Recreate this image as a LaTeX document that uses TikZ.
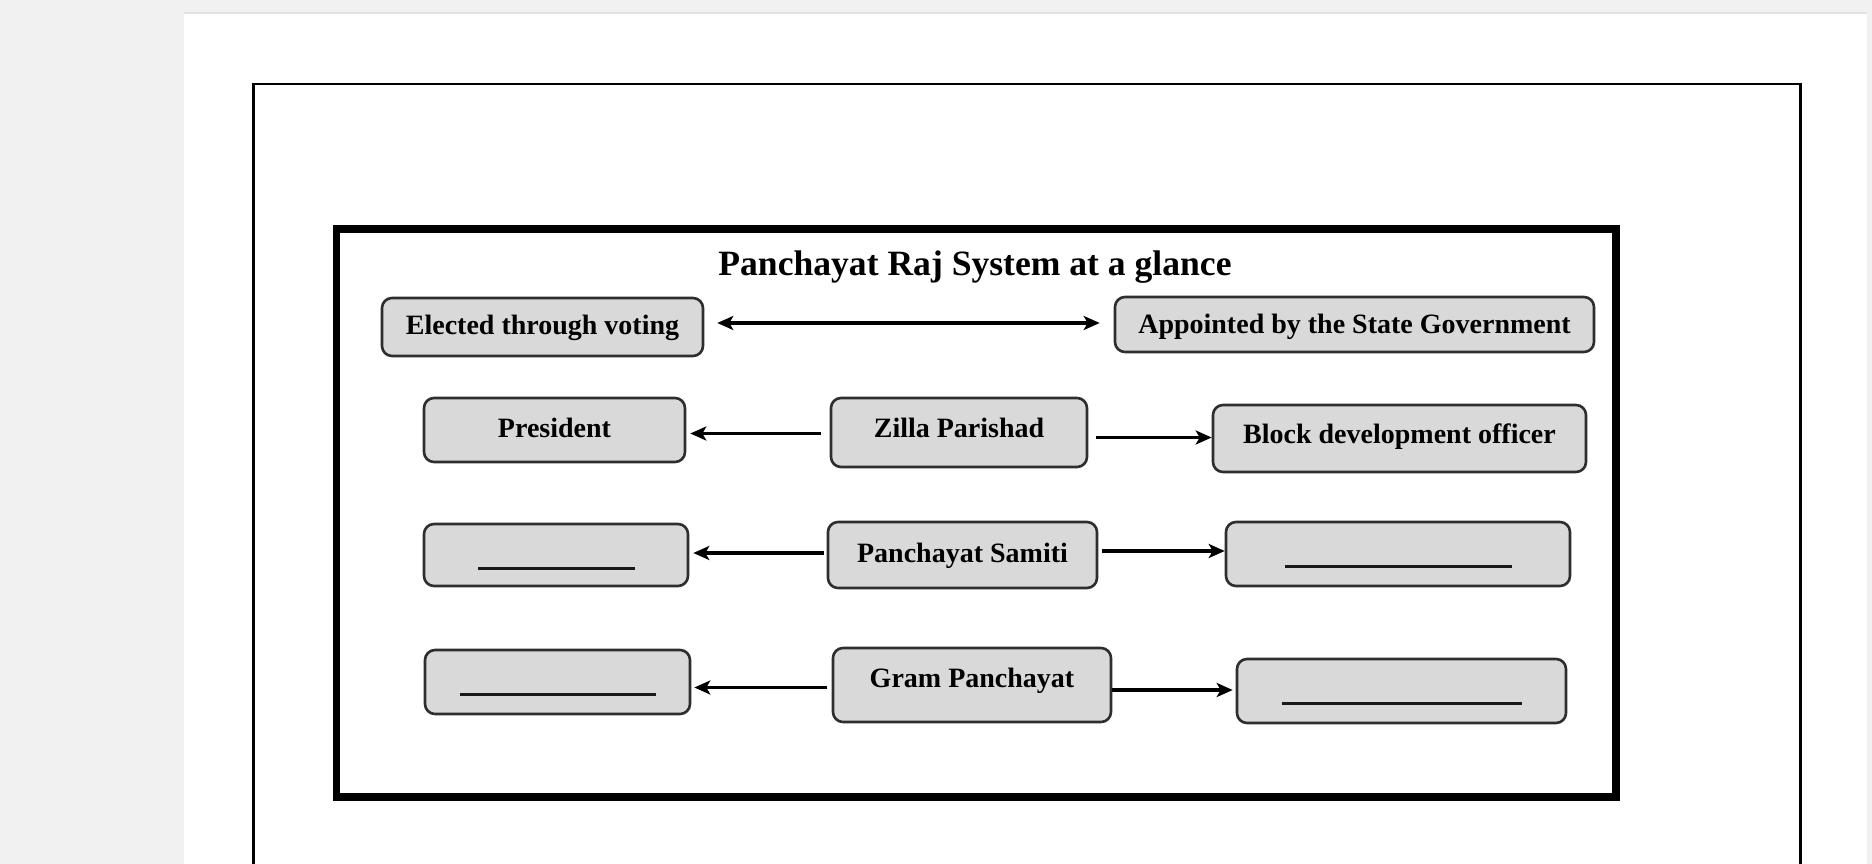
\documentclass[tikz,border=0pt]{standalone}
\usepackage{fontspec}
\setmainfont{Liberation Serif}
\usetikzlibrary{arrows.meta}
\definecolor{pagegray}{HTML}{F1F1F1}
\definecolor{edgegray}{HTML}{E2E2E2}
\definecolor{boxfill}{HTML}{D9D9D9}
\definecolor{boxline}{HTML}{2E2E2E}
\begin{document}
\begin{tikzpicture}[x=1pt,y=-1pt,
  box/.style={draw=boxline, line width=2.6pt, fill=boxfill, rounded corners=10pt,
    inner sep=0pt, font=\fontsize{28}{32}\selectfont\bfseries, text=black},
  bl/.style={text height=#1, text depth=0pt},
  conn/.style={line width=3.8pt, -{Stealth[length=16pt,width=14pt,inset=4pt]}},
  dbl/.style={line width=3.8pt, {Stealth[length=16pt,width=14pt,inset=4pt]}-{Stealth[length=16pt,width=14pt,inset=4pt]}},
  blankline/.style={line width=3pt, draw=black!90},
  titlefont/.style={font=\fontsize{35.6}{40}\selectfont\bfseries}
]
\useasboundingbox (0,0) rectangle (1872,864);
\fill[pagegray] (0,0) rectangle (1872,864);
\fill[white] (184,14) rectangle (1867,864);
\draw[edgegray, line width=2pt] (184,13) -- (1867,13);
\draw[line width=2.5pt] (253.5,864) -- (253.5,84) -- (1800.5,84) -- (1800.5,864);
\draw[line width=7.5pt] (336.5,229) rectangle (1616,797);

\node[titlefont, anchor=base] (title) at (975,275) {Panchayat Raj System at a glance};

\node[box, bl=14pt, minimum width=321pt, minimum height=58pt] (elected) at (542.5,327) {Elected through voting};
\node[box, bl=17.6pt, minimum width=479pt, minimum height=55pt] (appointed) at (1354.5,324.5) {Appointed by the State Government};

\node[box, bl=14.6pt, minimum width=261pt, minimum height=64pt] (pres) at (554.5,430) {President};
\node[box, bl=9.6pt, minimum width=256pt, minimum height=69pt] (zp) at (959,432.5) {Zilla Parishad};
\node[box, bl=9.6pt, minimum width=373pt, minimum height=67pt] (bdo) at (1399.5,438.5) {Block development officer};

\node[box, minimum width=264pt, minimum height=62pt] (b3l) at (556,555) {};
\node[box, bl=15.4pt, minimum width=269pt, minimum height=66pt] (ps) at (962.5,555) {Panchayat Samiti};
\node[box, minimum width=344pt, minimum height=64pt] (b3r) at (1398,554) {};

\node[box, minimum width=265pt, minimum height=64pt] (b4l) at (557.5,682) {};
\node[box, bl=4.6pt, minimum width=278pt, minimum height=74pt] (gp) at (972,685) {Gram Panchayat};
\node[box, minimum width=329pt, minimum height=64pt] (b4r) at (1401.5,691) {};

% blanks
\draw[blankline] ([shift={(-78,13)}]b3l.center) -- ([shift={(79,13)}]b3l.center);
\draw[blankline] ([shift={(-113,12)}]b3r.center) -- ([shift={(114,12)}]b3r.center);
\draw[blankline] ([shift={(-98,12)}]b4l.center) -- ([shift={(98,12)}]b4l.center);
\draw[blankline] ([shift={(-120,12)}]b4r.center) -- ([shift={(120,12)}]b4r.center);

% arrow rows
\coordinate (r1) at (0,323);
\coordinate (r2a) at (0,433.5);
\coordinate (r2b) at (0,437.5);
\coordinate (r3a) at (0,553);
\coordinate (r3b) at (0,551);
\coordinate (r4a) at (0,687.5);
\coordinate (r4b) at (0,690);

% connectors
\draw[dbl, shorten <=13pt, shorten >=14pt] (elected.east |- r1) -- (appointed.west |- r1);
\draw[conn, shorten <=9pt, shorten >=4pt] (zp.west |- r2a) -- (pres.east |- r2a);
\draw[conn, shorten <=8pt, shorten >=0pt] (zp.east |- r2b) -- (bdo.west |- r2b);
\draw[conn, shorten <=3pt, shorten >=4pt] (ps.west |- r3a) -- (b3l.east |- r3a);
\draw[conn, shorten <=4pt, shorten >=0pt] (ps.east |- r3b) -- (b3r.west |- r3b);
\draw[conn, shorten <=5pt, shorten >=3pt] (gp.west |- r4a) -- (b4l.east |- r4a);
\draw[conn, shorten <=0pt, shorten >=3pt] (gp.east |- r4b) -- (b4r.west |- r4b);
\end{tikzpicture}
\end{document}
